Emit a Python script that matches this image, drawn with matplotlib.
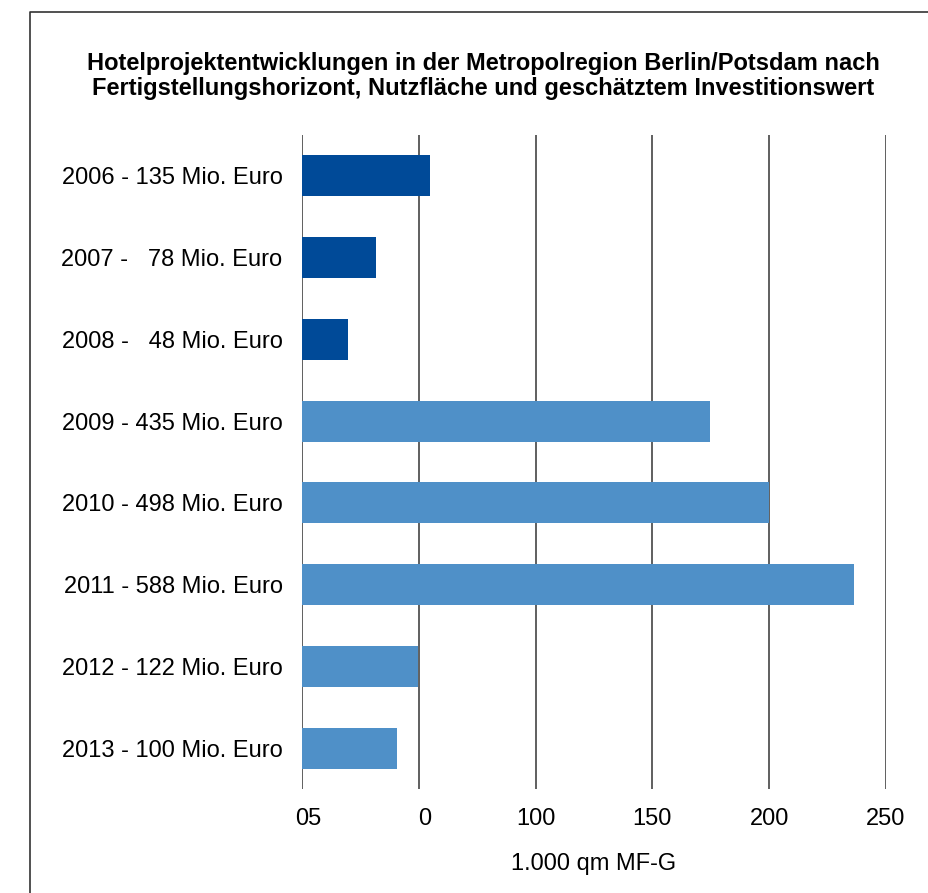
import matplotlib.pyplot as plt
import matplotlib.transforms as mtransforms
from matplotlib.lines import Line2D

plt.rcParams['font.family'] = ['Liberation Sans', 'DejaVu Sans']

# Data (top to bottom)
labels = ['2006 - 135 Mio. Euro', '2007 -   78 Mio. Euro', '2008 -   48 Mio. Euro',
          '2009 - 435 Mio. Euro', '2010 - 498 Mio. Euro', '2011 - 588 Mio. Euro',
          '2012 - 122 Mio. Euro', '2013 - 100 Mio. Euro']
values = [55, 31.5, 19.5, 174.5, 200, 236.5, 49.5, 40.5]
completed = [True, True, True, False, False, False, False, False]
xticks = [0, 50, 100, 150, 200, 250]
xtick_labels = ['05', '0', '100', '150', '200', '250']

W, H = 929, 893
fig = plt.figure(figsize=(W / 100, H / 100), dpi=100)
ax = fig.add_axes([302 / W, 1 - 789 / H, (886 - 302) / W, (789 - 135) / H])

colors = ['#004a98' if c else '#4f90c8' for c in completed]
y = list(range(len(labels)))
ax.barh(y, values, height=0.5, color=colors, zorder=3)

ax.set_xlim(0, 250)
ax.set_ylim(len(labels) - 0.5, -0.5)
ax.set_yticks(y)
ax.set_yticklabels(labels, fontsize=17)
ax.set_xticks(xticks)
ax.set_xticklabels(xtick_labels, fontsize=17)
ax.tick_params(axis='both', length=0)
ax.tick_params(axis='x', pad=14)
ax.tick_params(axis='y', pad=14)
ax.grid(axis='x', color='#444444', linewidth=1.2, zorder=0)
for s in ax.spines.values():
    s.set_visible(False)

# the first two labels sit a little right of their gridlines in the original
shift = mtransforms.ScaledTranslation(6 / 100, 0, fig.dpi_scale_trans)
for lab in ax.get_xticklabels()[:2]:
    lab.set_transform(lab.get_transform() + shift)

ax.set_xlabel('1.000 qm MF-G', fontsize=17, labelpad=16)

fig.text(483 / W, 1 - 76 / H,
         'Hotelprojektentwicklungen in der Metropolregion Berlin/Potsdam nach\n'
         'Fertigstellungshorizont, Nutzfläche und geschätztem Investitionswert',
         ha='center', va='center', fontsize=17, fontweight='bold', linespacing=1.1)

# outer frame (only left and top edges visible)
fig.add_artist(Line2D([30 / W, 30 / W, 1], [0, 1 - 12 / H, 1 - 12 / H],
                      transform=fig.transFigure, color='#333333', linewidth=1.2))

fig.savefig('out.png', dpi=100)
